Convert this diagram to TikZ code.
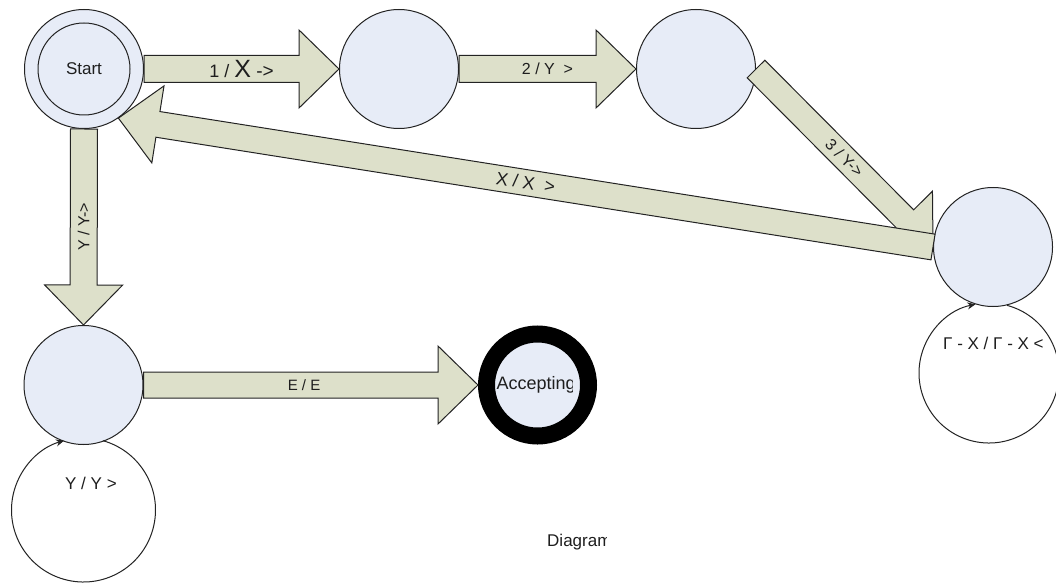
\documentclass[tikz,border=0pt]{standalone}
\usepackage{fontspec}
\setmainfont{Liberation Sans}
\usetikzlibrary{calc,arrows.meta}

\definecolor{statefill}{RGB}{231,236,247}
\definecolor{arrowfill}{RGB}{221,224,202}
\definecolor{inkline}{RGB}{35,35,35}
\definecolor{inktext}{RGB}{30,30,30}

% Block arrow from tail #2 to tip #3; optional #1 = half shaft width
\newcommand{\blockarrow}[3][13.5pt]{%
  \coordinate (ba-base) at ($(#3)!40pt!(#2)$);
  \draw[blockshape]
    ($(#2)!#1!90:(#3)$) -- ($(ba-base)!#1!90:(#3)$) --
    ($(ba-base)!39pt!90:(#3)$) -- (#3) --
    ($(ba-base)!39pt!-90:(#3)$) -- ($(ba-base)!#1!-90:(#3)$) --
    ($(#2)!#1!-90:(#3)$) -- cycle;
}

\begin{document}
\begin{tikzpicture}[x=1pt,y=1pt,
  state/.style={circle, draw=inkline, line width=1pt, fill=statefill,
    minimum size=119pt, inner sep=0pt},
  blockshape/.style={draw=inkline, line width=1pt, fill=arrowfill, line join=miter},
  arrowlabel/.style={text=inktext, inner sep=0pt, font=\fontsize{16}{19}\selectfont},
  statelabel/.style={text=inktext, inner sep=0pt, font=\fontsize{17}{20}\selectfont},
  loopline/.style={draw=inkline, line width=1pt, -{Stealth[length=8pt,width=7pt]}},
]
\useasboundingbox (0,0) rectangle (1056,582);
\clip (0,0) rectangle (1056,582);
\fill[white] (0,0) rectangle (1056,582);

% states
\node[state] (start) at (84,513) {};
\node[circle, draw=inkline, line width=1pt, minimum size=92pt, inner sep=0pt,
      statelabel] (startin) at (start.center) {Start};
\node[state] (s2) at (399,513) {};
\node[state] (s3) at (696,513) {};
\node[state] (s4) at (993,335) {};
\node[state] (s5) at (83.5,197) {};
\node[state, draw=black, line width=17pt, minimum size=102pt] (accept) at (537.5,197) {};
\begin{scope}
  \clip ($(accept.center)+(-45,-30)$) rectangle ($(accept.center)+(35,30)$);
  \node[statelabel, font=\fontsize{18}{21}\selectfont, anchor=west] (accepttext)
    at ($(accept.center)+(-41,0)$) {Accepting};
\end{scope}

% self loops
\coordinate (s5loop) at ($(s5)+(0,-125)$);
\draw[loopline] ($(s5loop)+(74.3:72)$) arc[start angle=74.3, end angle=-254.3, radius=72];
\node[statelabel, anchor=west] (s5looplab) at (65,99) {Y / Y >};

\coordinate (s4loop) at ($(s4)+(-4,-126)$);
\draw[loopline] ($(s4loop)+(75.1:70)$) arc[start angle=75.1, end angle=-258.8, radius=70];
\node[statelabel, anchor=west] (s4looplab) at (943,239) {Γ - X / Γ - X <};

% transitions
\blockarrow{start.east}{s2.west}
\node[arrowlabel] (lab1) at ($(start.east)!0.5!(s2.west)$)
  {\fontsize{18}{20}\selectfont 1 / \fontsize{25}{27}\selectfont X\fontsize{19}{21}\selectfont\ ->};

\blockarrow{s2.east}{s3.west}
\node[arrowlabel] (lab2) at ($(s2.east)!0.5!(s3.west)$) {2 / Y \ >};

\blockarrow[12.5pt]{s3.east}{s4.west}
\node[arrowlabel, rotate=-45] (lab3) at ($(s3.east)!0.5!(s4.west)$) {3 / Y->};

\blockarrow[13pt]{s4.west}{start.-55}
\node[arrowlabel, font=\fontsize{18}{21}\selectfont, rotate=-9] (lab4)
  at ($(s4.west)!0.5!(start.-55)$) {X / X \ >};

\blockarrow{start.south}{s5.north}
\node[arrowlabel, rotate=90] (lab5) at ($(start.south)!0.5!(s5.north)$) {Y / Y->};

\blockarrow[13pt]{s5.east}{accept.west}
\node[arrowlabel, font=\fontsize{15}{18}\selectfont] (lab6)
  at ($(s5.east)!0.48!(accept.west)$) {E / E};

% caption
\begin{scope}
  \clip (540,25) rectangle (606,60);
  \node[statelabel, anchor=west] (caption) at (547,40) {Diagram};
\end{scope}
\end{tikzpicture}
\end{document}
